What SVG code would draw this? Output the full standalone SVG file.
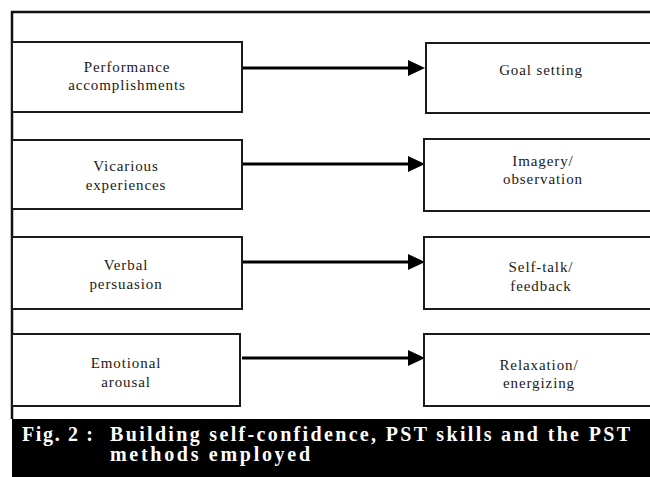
<svg xmlns="http://www.w3.org/2000/svg" width="650" height="477" viewBox="0 0 650 477">
<defs>
<style>
.box{fill:#fff;stroke:#1a1a1a;stroke-width:2}
.lbl{font-family:'Liberation Serif','Times New Roman',serif;font-size:15px;letter-spacing:0.9px;fill:#1a1a1a;text-anchor:middle}
.cap{font-family:'Liberation Serif','Times New Roman',serif;font-size:20px;font-weight:bold;fill:#fff}
.conn{stroke:#000;stroke-width:3;fill:none}
</style>
</defs>
<rect x="0" y="0" width="650" height="477" fill="#fff"/>
<path d="M12,419 L12,12 L652,12" fill="none" stroke="#111" stroke-width="2.5"/>

<g id="connectors">
<path d="M242,68 L410,68" class="conn"/><path d="M408,60 L425,68 L408,76 Z" fill="#000"/>
<path d="M242,164 L410,164" class="conn"/><path d="M408,156 L425,164 L408,172 Z" fill="#000"/>
<path d="M242,262 L410,262" class="conn"/><path d="M408,254 L425,262 L408,270 Z" fill="#000"/>
<path d="M242,358 L410,358" class="conn"/><path d="M408,350 L425,358 L408,366 Z" fill="#000"/>
</g>

<g id="left1"><rect class="box" x="12" y="42" width="230" height="70"/>
<text class="lbl" x="127" y="72">Performance</text><text class="lbl" x="127" y="90">accomplishments</text></g>
<g id="left2"><rect class="box" x="12" y="140" width="230" height="69"/>
<text class="lbl" x="126" y="171">Vicarious</text><text class="lbl" x="126" y="190">experiences</text></g>
<g id="left3"><rect class="box" x="12" y="237" width="230" height="72"/>
<text class="lbl" x="126" y="270">Verbal</text><text class="lbl" x="126" y="289">persuasion</text></g>
<g id="left4"><rect class="box" x="12" y="334" width="228" height="72"/>
<text class="lbl" x="126" y="368">Emotional</text><text class="lbl" x="126" y="387">arousal</text></g>

<g id="right1"><rect class="box" x="426" y="43" width="236" height="70"/>
<text class="lbl" x="541" y="75">Goal setting</text></g>
<g id="right2"><rect class="box" x="424" y="139" width="238" height="72"/>
<text class="lbl" x="543" y="166">Imagery/</text><text class="lbl" x="543" y="184">observation</text></g>
<g id="right3"><rect class="box" x="424" y="237" width="238" height="72"/>
<text class="lbl" x="541" y="272">Self-talk/</text><text class="lbl" x="541" y="291">feedback</text></g>
<g id="right4"><rect class="box" x="424" y="334" width="238" height="72"/>
<text class="lbl" x="539" y="370">Relaxation/</text><text class="lbl" x="539" y="388">energizing</text></g>

<g id="caption">
<rect x="12" y="419" width="640" height="58" fill="#000"/>
<text class="cap" x="22" y="441" textLength="71" lengthAdjust="spacing">Fig. 2 :</text>
<text class="cap" x="110" y="441" textLength="520" lengthAdjust="spacing">Building self-confidence, PST skills and the PST</text>
<text class="cap" x="110" y="461" textLength="200" lengthAdjust="spacing">methods  employed</text>
</g>
</svg>
